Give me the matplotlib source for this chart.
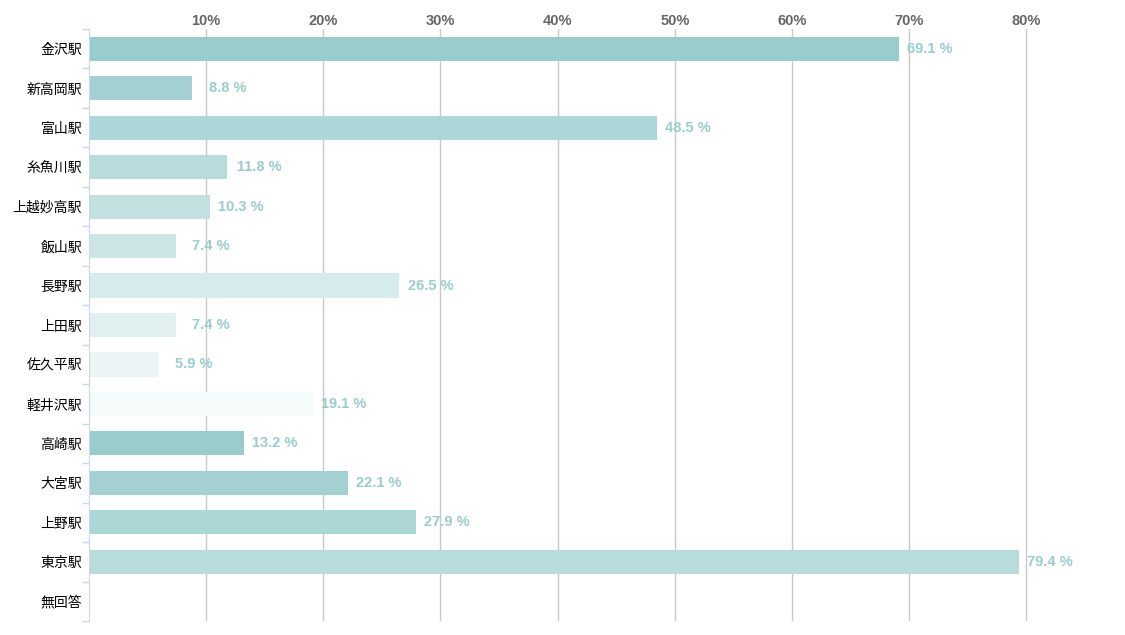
import numpy as np
import matplotlib.pyplot as plt
from matplotlib.ticker import FixedLocator, FuncFormatter

# Station data (percent)
stations = ['金沢駅', '新高岡駅', '富山駅', '糸魚川駅', '上越妙高駅', '飯山駅', '長野駅',
            '上田駅', '佐久平駅', '軽井沢駅', '高崎駅', '大宮駅', '上野駅', '東京駅', '無回答']
values = [69.1, 8.8, 48.5, 11.8, 10.3, 7.4, 26.5, 7.4, 5.9, 19.1, 13.2, 22.1, 27.9, 79.4, 0]
xticks = [10, 20, 30, 40, 50, 60, 70, 80]

shades = ['#99cccc', '#a3d1d1', '#add6d6', '#b8dbdb', '#c2e0e0',
          '#cce6e6', '#d6ebeb', '#e0f0f0', '#ebf5f5', '#f5fafa']
colors = [shades[i % len(shades)] for i in range(len(stations))]

plt.rcParams['font.family'] = ['Liberation Sans', 'Noto Sans CJK JP', 'DejaVu Sans']

fig = plt.figure(figsize=(11.25, 6.35), dpi=100)
ax = fig.add_axes([89 / 1125, 14 / 635, (1120 - 89) / 1125, (621 - 14 - 15) / 635])

y = np.arange(len(stations))
ax.barh(y, values, height=0.61, color=colors, zorder=2)

for yi, v in zip(y, values):
    if v > 0:
        ax.annotate(f'{v} %', (v, yi), xytext=(54, 0), textcoords='offset pixels',
                    ha='right', va='center', fontsize=10.5, fontweight='bold',
                    color='#99cccc', zorder=3)

ax.set_xlim(0, 88)
ax.set_ylim(len(stations) - 0.5, -0.5)

ax.xaxis.tick_top()
ax.set_xticks(xticks)
ax.xaxis.set_major_formatter(FuncFormatter(lambda v, p: f'{v:.0f}%'))
ax.tick_params(axis='x', length=0, pad=1, labelsize=10.5, labelcolor='#666666')
for lbl in ax.get_xticklabels():
    lbl.set_fontweight('bold')
ax.grid(axis='x', color='#c8c8c8', linewidth=1, zorder=1)

ax.set_yticks(y)
ax.set_yticklabels(stations, family=['Noto Sans CJK JP', 'DejaVu Sans'], fontsize=10)
ax.tick_params(axis='y', which='major', length=0, pad=5, labelcolor='black')
ax.yaxis.set_minor_locator(FixedLocator(np.arange(-0.5, len(stations), 1)))
ax.tick_params(axis='y', which='minor', length=5, color='#ccd6eb', width=1)

for side in ['top', 'right', 'bottom']:
    ax.spines[side].set_visible(False)
ax.spines['left'].set_color('#ccd6eb')

fig.savefig('out.png', dpi=100)
